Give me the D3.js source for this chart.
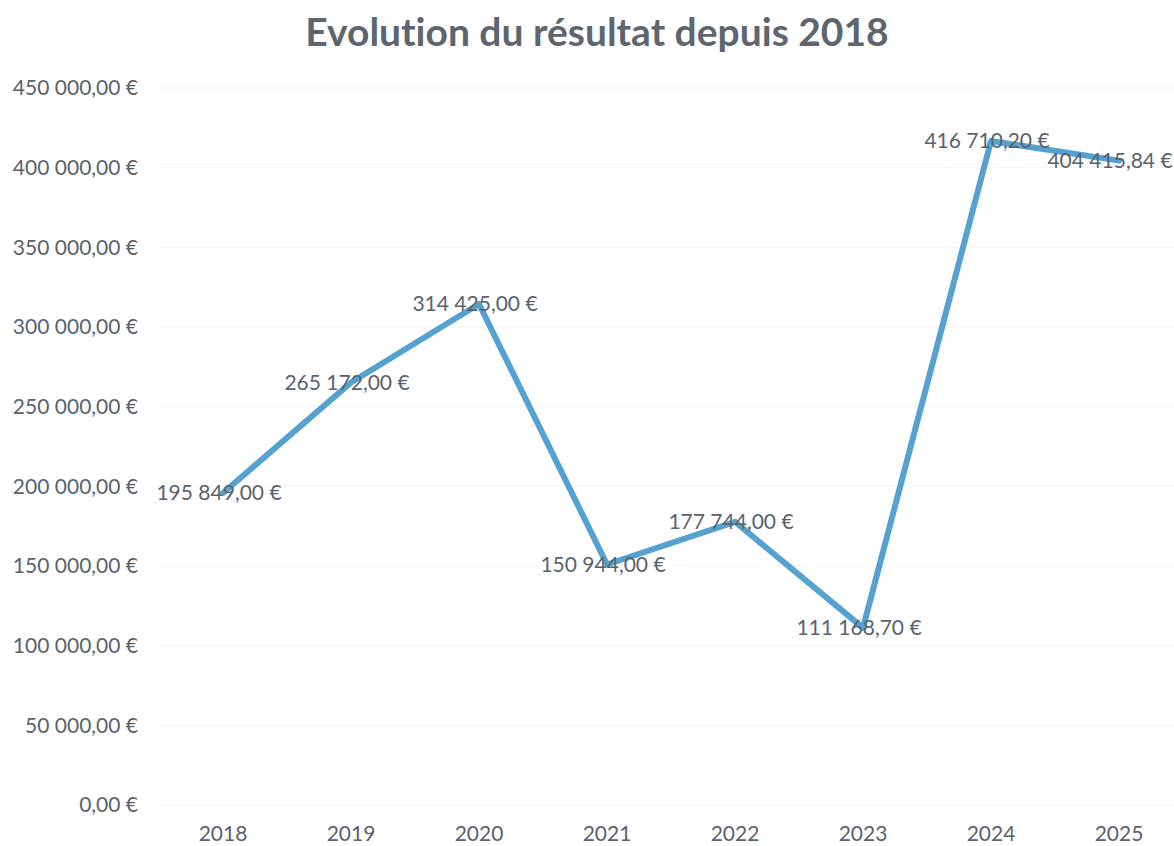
<!DOCTYPE html>
<html>
<head>
<meta charset="utf-8">
<script src="https://cdn.jsdelivr.net/npm/d3@7"></script>
<style>
  body { margin: 0; background: #fff; }
  text { font-family: Lato, "Noto Sans", sans-serif; font-variant-ligatures: none; }
</style>
</head>
<body>
<div id="chart"></div>
<script>
var years = ["2018", "2019", "2020", "2021", "2022", "2023", "2024", "2025"];
var results = [195849.00, 265172.00, 314425.00, 150944.00, 177744.00, 111168.70, 416710.20, 404415.84];
var yTicks = [0, 50000, 100000, 150000, 200000, 250000, 300000, 350000, 400000, 450000];
var title = "Evolution du résultat depuis 2018";

var W = 1174, H = 846;
var textColor = "#5a636c";

var svg = d3.select("#chart").append("svg")
    .attr("width", W).attr("height", H);

var x = d3.scaleBand().domain(years).range([159, 1183]);
var y = d3.scaleLinear().domain([0, 450000]).range([805, 88]);

function euro(v) {
    var s = v.toFixed(2).split(".");
    var intPart = s[0].replace(/\B(?=(\d{3})+(?!\d))/g, " ");
    return intPart + "," + s[1] + " €";
}

// title
svg.append("text")
    .attr("x", 597).attr("y", 46)
    .attr("text-anchor", "middle")
    .attr("font-size", 39).attr("font-weight", "bold")
    .attr("fill", "#5d6670")
    .text(title);

// gridlines, very faint
svg.append("g").selectAll("line").data(yTicks).enter().append("line")
    .attr("x1", 159).attr("x2", W)
    .attr("y1", function(d) { return y(d); })
    .attr("y2", function(d) { return y(d); })
    .attr("stroke", "#f4f4f4").attr("stroke-width", 1);

// y axis
var yAxis = svg.append("g").attr("transform", "translate(159,0)")
    .call(d3.axisLeft(y).tickValues(yTicks).tickFormat(euro).tickSize(0).tickPadding(21));
yAxis.select(".domain").remove();
yAxis.selectAll("text").attr("font-size", 21).attr("fill", textColor)
    .attr("font-family", "Lato, 'Noto Sans', sans-serif");

// x axis
var xAxis = svg.append("g").attr("transform", "translate(0,805)")
    .call(d3.axisBottom(x).tickSize(0).tickPadding(21));
xAxis.select(".domain").remove();
xAxis.selectAll("text").attr("font-size", 21).attr("fill", textColor)
    .attr("font-family", "Lato, 'Noto Sans', sans-serif");

// line
var line = d3.line()
    .x(function(d, i) { return x(years[i]) + x.bandwidth() / 2; })
    .y(function(d) { return y(d); });

svg.append("path")
    .datum(results)
    .attr("d", line)
    .attr("fill", "none")
    .attr("stroke", "#55a2d1")
    .attr("stroke-width", 6)
    .attr("stroke-linejoin", "round")
    .attr("stroke-linecap", "round");

// data labels, roughly centred on the points
svg.append("g").selectAll("text").data(results).enter().append("text")
    .attr("x", function(d, i) {
        var cx = x(years[i]) + x.bandwidth() / 2 - 4;
        return Math.min(cx, W - 64);
    })
    .attr("y", function(d) { return y(d); })
    .attr("dy", "0.35em")
    .attr("text-anchor", "middle")
    .attr("font-size", 21)
    .attr("fill", textColor)
    .text(euro);
</script>
</body>
</html>
